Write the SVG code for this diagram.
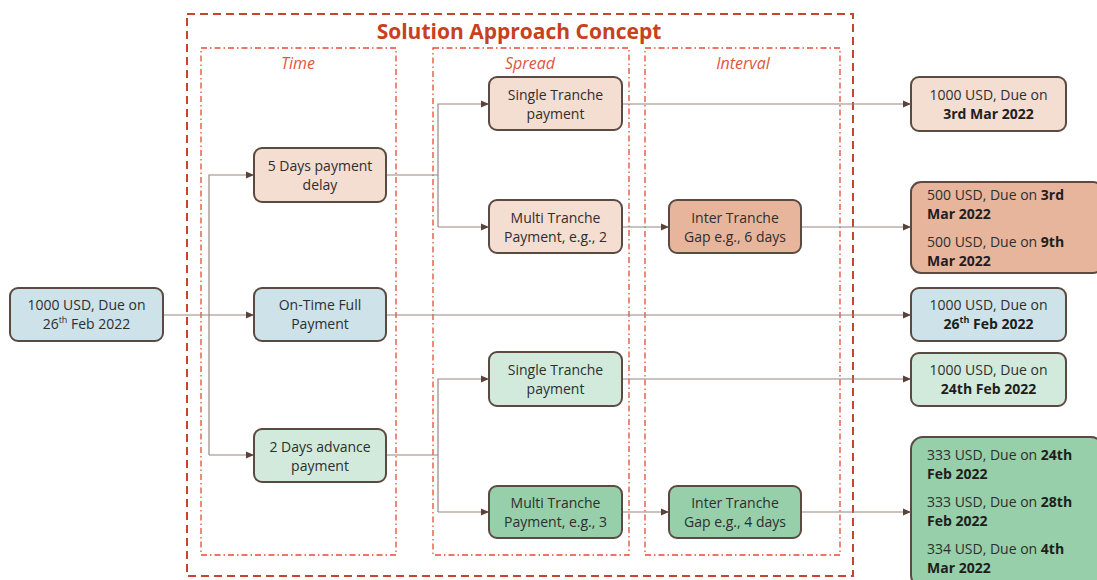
<svg xmlns="http://www.w3.org/2000/svg" width="1097" height="580" viewBox="0 0 1097 580">
<defs>
<marker id="arr" markerUnits="userSpaceOnUse" markerWidth="8" markerHeight="8" refX="8" refY="4" orient="auto">
<path d="M0,0.5 L8,4 L0,7.5 z" fill="#5a4238"/>
</marker>
<style>
.outer{fill:none;stroke:#c4462f;stroke-width:2;stroke-dasharray:8 5}
.col{fill:none;stroke:#e84a35;stroke-width:1.3;stroke-dasharray:6 3 1.5 3}
.title{font-family:"Open Sans","Noto Sans",sans-serif;font-weight:bold;font-size:21px;fill:#c9401e;text-anchor:middle}
.coltitle{font-family:"Open Sans","Noto Sans",sans-serif;font-style:italic;font-size:16px;fill:#e0563f;text-anchor:middle}
.box{stroke:#5b4a42;stroke-width:2}
.peach{fill:#f4ddd1}
.salmon{fill:#e7b59c}
.blue{fill:#cde2e9}
.lgreen{fill:#d1eadb}
.mgreen{fill:#96cfa9}
.t{font-family:"Open Sans","Noto Sans",sans-serif;font-size:14px;fill:#2e2e2e;text-anchor:middle}
.tl{font-family:"Open Sans","Noto Sans",sans-serif;font-size:14px;fill:#2e2e2e}
.b{font-weight:bold;fill:#1e1e1e}
.conn{fill:none;stroke:#978680;stroke-width:1.2}
</style>
</defs>

<g id="frame">
<rect class="outer" x="187" y="14" width="666" height="562"/>
<text class="title" x="519" y="39">Solution Approach Concept</text>
<rect class="col" x="201" y="48" width="195" height="507"/>
<rect class="col" x="433" y="48" width="196" height="507"/>
<rect class="col" x="645" y="48" width="195" height="507"/>
<text class="coltitle" x="298" y="69">Time</text>
<text class="coltitle" x="530" y="69">Spread</text>
<text class="coltitle" x="743" y="69">Interval</text>
</g>

<g id="connectors">
<path class="conn" d="M163,315 L254,315" marker-end="url(#arr)"/>
<path class="conn" d="M209,455 L209,175 L254,175" marker-end="url(#arr)"/>
<path class="conn" d="M209,455 L254,455" marker-end="url(#arr)"/>
<path class="conn" d="M386,175 L438,175"/>
<path class="conn" d="M438,227 L438,104 L489,104" marker-end="url(#arr)"/>
<path class="conn" d="M438,227 L489,227" marker-end="url(#arr)"/>
<path class="conn" d="M622,104 L911,104" marker-end="url(#arr)"/>
<path class="conn" d="M622,227 L669,227" marker-end="url(#arr)"/>
<path class="conn" d="M801,227 L911,227" marker-end="url(#arr)"/>
<path class="conn" d="M386,315 L911,315" marker-end="url(#arr)"/>
<path class="conn" d="M386,455 L438,455"/>
<path class="conn" d="M438,512 L438,379 L489,379" marker-end="url(#arr)"/>
<path class="conn" d="M438,512 L489,512" marker-end="url(#arr)"/>
<path class="conn" d="M622,379 L911,379" marker-end="url(#arr)"/>
<path class="conn" d="M622,512 L669,512" marker-end="url(#arr)"/>
<path class="conn" d="M801,512 L911,512" marker-end="url(#arr)"/>
</g>

<g id="input">
<rect class="box blue" x="10" y="288" width="153" height="53" rx="8"/>
<text class="t" x="86.5" y="310">1000 USD, Due on</text>
<text class="t" x="86.5" y="329">26<tspan font-size="9" dy="-6">th</tspan><tspan dy="6"> Feb 2022</tspan></text>
</g>

<g id="delay5">
<rect class="box peach" x="254" y="148" width="132" height="54" rx="8"/>
<text class="t" x="320" y="171">5 Days payment</text>
<text class="t" x="320" y="190">delay</text>
</g>

<g id="ontime">
<rect class="box blue" x="254" y="288" width="132" height="53" rx="8"/>
<text class="t" x="320" y="310">On-Time Full</text>
<text class="t" x="320" y="329">Payment</text>
</g>

<g id="advance2">
<rect class="box lgreen" x="254" y="429" width="132" height="53" rx="8"/>
<text class="t" x="320" y="452">2 Days advance</text>
<text class="t" x="320" y="471">payment</text>
</g>

<g id="single-delay">
<rect class="box peach" x="489" y="77" width="133" height="53" rx="8"/>
<text class="t" x="555.5" y="100">Single Tranche</text>
<text class="t" x="555.5" y="119">payment</text>
</g>

<g id="multi-delay">
<rect class="box peach" x="489" y="200" width="133" height="53" rx="8"/>
<text class="t" x="555.5" y="223">Multi Tranche</text>
<text class="t" x="555.5" y="242">Payment, e.g., 2</text>
</g>

<g id="gap-delay">
<rect class="box salmon" x="669" y="200" width="132" height="53" rx="8"/>
<text class="t" x="735" y="223">Inter Tranche</text>
<text class="t" x="735" y="242">Gap e.g., 6 days</text>
</g>

<g id="single-adv">
<rect class="box lgreen" x="489" y="352" width="133" height="54" rx="8"/>
<text class="t" x="555.5" y="375">Single Tranche</text>
<text class="t" x="555.5" y="394">payment</text>
</g>

<g id="multi-adv">
<rect class="box mgreen" x="489" y="486" width="133" height="52" rx="8"/>
<text class="t" x="555.5" y="508">Multi Tranche</text>
<text class="t" x="555.5" y="527">Payment, e.g., 3</text>
</g>

<g id="gap-adv">
<rect class="box mgreen" x="669" y="486" width="132" height="52" rx="8"/>
<text class="t" x="735" y="508">Inter Tranche</text>
<text class="t" x="735" y="527">Gap e.g., 4 days</text>
</g>

<g id="out-single-delay">
<rect class="box peach" x="911" y="77" width="155" height="54" rx="8"/>
<text class="t" x="988.5" y="100">1000 USD, Due on</text>
<text class="t b" x="988.5" y="119">3rd Mar 2022</text>
</g>

<g id="out-multi-delay">
<rect class="box salmon" x="911" y="182" width="192" height="91" rx="10"/>
<text class="tl" x="927" y="200">500 USD, Due on <tspan class="b">3rd</tspan></text>
<text class="tl b" x="927" y="219">Mar 2022</text>
<text class="tl" x="927" y="247">500 USD, Due on <tspan class="b">9th</tspan></text>
<text class="tl b" x="927" y="266">Mar 2022</text>
</g>

<g id="out-ontime">
<rect class="box blue" x="911" y="288" width="155" height="53" rx="8"/>
<text class="t" x="988.5" y="310">1000 USD, Due on</text>
<text class="t b" x="988.5" y="329">26<tspan font-size="9" dy="-6">th</tspan><tspan dy="6">  Feb 2022</tspan></text>
</g>

<g id="out-single-adv">
<rect class="box lgreen" x="911" y="353" width="155" height="53" rx="8"/>
<text class="t" x="988.5" y="375">1000 USD, Due on</text>
<text class="t b" x="988.5" y="394">24th Feb 2022</text>
</g>

<g id="out-multi-adv">
<rect class="box mgreen" x="911" y="437" width="192" height="150" rx="12"/>
<text class="tl" x="927" y="460">333 USD, Due on <tspan class="b">24th</tspan></text>
<text class="tl b" x="927" y="479">Feb 2022</text>
<text class="tl" x="927" y="507">333 USD, Due on <tspan class="b">28th</tspan></text>
<text class="tl b" x="927" y="526">Feb 2022</text>
<text class="tl" x="927" y="554">334 USD, Due on <tspan class="b">4th</tspan></text>
<text class="tl b" x="927" y="573">Mar 2022</text>
</g>
</svg>
